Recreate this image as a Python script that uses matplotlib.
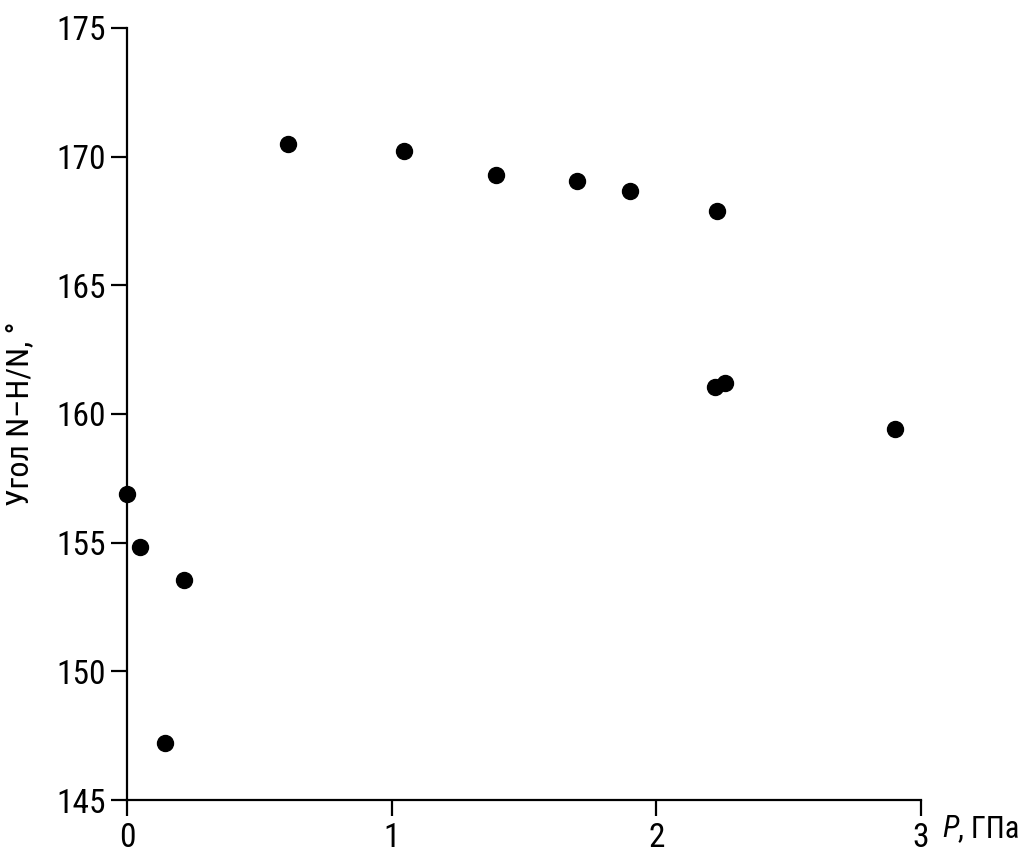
import matplotlib
matplotlib.use("Agg")
import matplotlib.pyplot as plt
from matplotlib import font_manager

# pressure (GPa) and N-H/N angle (degrees)
pressure = [0.0, 0.05, 0.215, 0.145, 0.61, 1.045, 1.395, 1.70, 1.90, 2.23, 2.22, 2.26, 2.90]
angle = [156.9, 154.85, 153.55, 147.2, 170.5, 170.2, 169.3, 169.05, 168.65, 167.9, 161.05, 161.2, 159.4]

x_ticks = [0, 1, 2, 3]
y_ticks = [145, 150, 155, 160, 165, 170, 175]

names = {f.name for f in font_manager.fontManager.ttflist}
fam = "Roboto"
for cand in ["Roboto Condensed", "Liberation Sans Narrow", "Open Sans Condensed"]:
    if cand in names:
        fam = cand
        break
plt.rcParams["font.family"] = [fam, "DejaVu Sans"]
fs = 24 if fam != "Roboto" else 21

fig = plt.figure(figsize=(10.28, 8.66), dpi=100)
ax = fig.add_axes([0.1235, 0.0762, 0.7725, 0.8915])

ax.plot(pressure, angle, "o", color="black", markersize=11.5, clip_on=False)

ax.set_xlim(0, 3)
ax.set_ylim(145, 175)
ax.set_xticks(x_ticks)
ax.set_yticks(y_ticks)
ax.set_xticklabels([str(t) for t in x_ticks])
ax.set_yticklabels([str(t) for t in y_ticks])

for s in ["top", "right"]:
    ax.spines[s].set_visible(False)
for s in ["left", "bottom"]:
    ax.spines[s].set_linewidth(1.6)
ax.tick_params(direction="out", length=11.5, width=1.6, labelsize=fs, pad=4)

ax.set_ylabel("Угол N–H/N, °", fontsize=fs - 1, labelpad=16)

p_lab = ax.annotate("P", xy=(3, 145), xycoords="data", xytext=(15, -10),
                    textcoords="offset points", fontsize=fs - 2, style="italic",
                    va="top", ha="left", annotation_clip=False)
ax.annotate(", ГПа", xy=(1, 0), xycoords=p_lab, xytext=(0, 0),
            textcoords="offset points", fontsize=fs - 2,
            va="bottom", ha="left", annotation_clip=False)

fig.savefig("out.png", dpi=100)
